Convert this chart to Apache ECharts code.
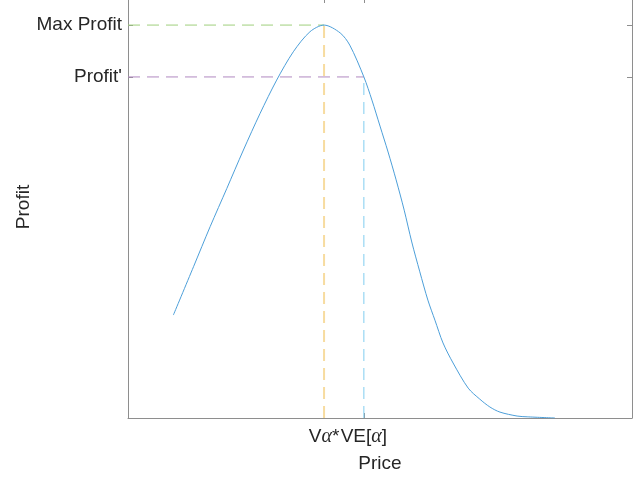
<!DOCTYPE html>
<html>
<head>
<meta charset="utf-8">
<script src="https://cdn.jsdelivr.net/npm/echarts@6/dist/echarts.min.js"></script>
<style>
  html, body { margin: 0; padding: 0; background: #fff; overflow: hidden; }
  /* the frame's top edge sits just above the visible page */
  #chart { position: absolute; left: 0; top: -4px; width: 639px; height: 485px; }
</style>
</head>
<body>
<div id="chart"></div>
<script>
// Profit as a function of price
const price = [0.90, 1.30, 1.63, 1.96, 2.29, 2.62, 2.95, 3.28, 3.61, 3.89, 4.21, 4.40, 4.68,
  4.84, 5.00, 5.16, 5.32, 5.48, 5.63, 5.79, 5.95, 6.09, 6.25, 6.45, 6.75, 6.98, 7.18, 7.38, 7.72, 7.92, 8.47];
const profit = [0.262, 0.385, 0.487, 0.584, 0.682, 0.775, 0.860, 0.932, 0.983, 1.000, 0.980, 0.949, 0.868,
  0.809, 0.743, 0.677, 0.606, 0.529, 0.448, 0.372, 0.300, 0.249, 0.191, 0.140, 0.076, 0.048, 0.028, 0.015, 0.005, 0.003, 0.000];

// Marked prices and profits
const priceTicks = [3.89, 4.68];
const priceTickLabels = ['V{g|α}*', 'VE[{g|α}]'];
const profitTicks = [0.868, 1.000];
const profitTickLabels = ["Profit'", 'Max Profit'];

const xMin = 0, xMax = 10, yMin = 0, yMax = 1.074;

const axisColor = '#8e8e8e';
const textColor = '#262626';
const font = 'Liberation Sans';
const fontSize = 19;

function pairs(xs, ys) { return xs.map((x, i) => [x, ys[i]]); }

const chart = echarts.init(document.getElementById('chart'));

const tickLabelRich = {
  g: { fontFamily: 'Liberation Serif', fontStyle: 'italic', fontSize: 20, color: textColor }
};

// Box frame: the mirrored axes carry ticks only
const frameLine = { show: true, onZero: false, lineStyle: { color: axisColor, width: 1 } };

chart.setOption({
  animation: false,
  backgroundColor: '#ffffff',
  grid: { left: 128, right: 7, top: 0, bottom: 63, containLabel: false },
  xAxis: [
    {
      type: 'value', min: xMin, max: xMax, position: 'bottom',
      name: 'Price', nameLocation: 'middle', nameGap: 36,
      nameTextStyle: { fontFamily: font, fontSize: fontSize, color: textColor },
      axisLine: frameLine,
      axisTick: { show: true, inside: true, length: 5, customValues: priceTicks, lineStyle: { color: axisColor } },
      axisLabel: {
        show: true, customValues: priceTicks, margin: 9,
        fontFamily: font, fontSize: fontSize, color: textColor,
        formatter: v => priceTickLabels[priceTicks.indexOf(v)],
        rich: tickLabelRich
      },
      splitLine: { show: false }
    },
    {
      type: 'value', min: xMin, max: xMax, position: 'top',
      axisLine: frameLine,
      axisTick: { show: true, inside: true, length: 7, customValues: priceTicks, lineStyle: { color: axisColor } },
      axisLabel: { show: false },
      splitLine: { show: false }
    }
  ],
  yAxis: [
    {
      type: 'value', min: yMin, max: yMax, position: 'left',
      name: 'Profit', nameLocation: 'middle', nameGap: 95, nameRotate: 90,
      nameMoveOverlap: false,
      nameTextStyle: { fontFamily: font, fontSize: fontSize, color: textColor },
      axisLine: frameLine,
      axisTick: { show: true, inside: true, length: 5, customValues: profitTicks, lineStyle: { color: axisColor } },
      axisLabel: {
        show: true, customValues: profitTicks, margin: 6,
        fontFamily: font, fontSize: fontSize, color: textColor,
        formatter: v => profitTickLabels[profitTicks.indexOf(v)]
      },
      splitLine: { show: false }
    },
    {
      type: 'value', min: yMin, max: yMax, position: 'right',
      axisLine: frameLine,
      axisTick: { show: true, inside: true, length: 5, customValues: profitTicks, lineStyle: { color: axisColor } },
      axisLabel: { show: false },
      splitLine: { show: false }
    }
  ],
  series: [
    {
      name: 'maxProfitGuide', type: 'line', symbol: 'none', silent: true,
      data: [[xMin, profitTicks[1]], [priceTicks[0], profitTicks[1]]],
      lineStyle: { color: '#9fcf7c', width: 1, type: [12, 7] }
    },
    {
      name: 'profitPrimeGuide', type: 'line', symbol: 'none', silent: true,
      data: [[xMin, profitTicks[0]], [priceTicks[1], profitTicks[0]]],
      lineStyle: { color: '#b088c0', width: 1, type: [12, 7] }
    },
    {
      name: 'optimalPriceGuide', type: 'line', symbol: 'none', silent: true,
      data: [[priceTicks[0], yMin], [priceTicks[0], profitTicks[1]]],
      lineStyle: { color: '#f7dca0', width: 2, type: [12, 7] }
    },
    {
      name: 'expectedValueGuide', type: 'line', symbol: 'none', silent: true,
      data: [[priceTicks[1], yMin], [priceTicks[1], profitTicks[0]]],
      lineStyle: { color: '#80cdf0', width: 1, type: [12, 7] }
    },
    {
      name: 'profit', type: 'line', symbol: 'none', smooth: 0.3,
      data: pairs(price, profit),
      lineStyle: { color: '#4d9fd9', width: 1 }
    }
  ]
});
</script>
</body>
</html>
